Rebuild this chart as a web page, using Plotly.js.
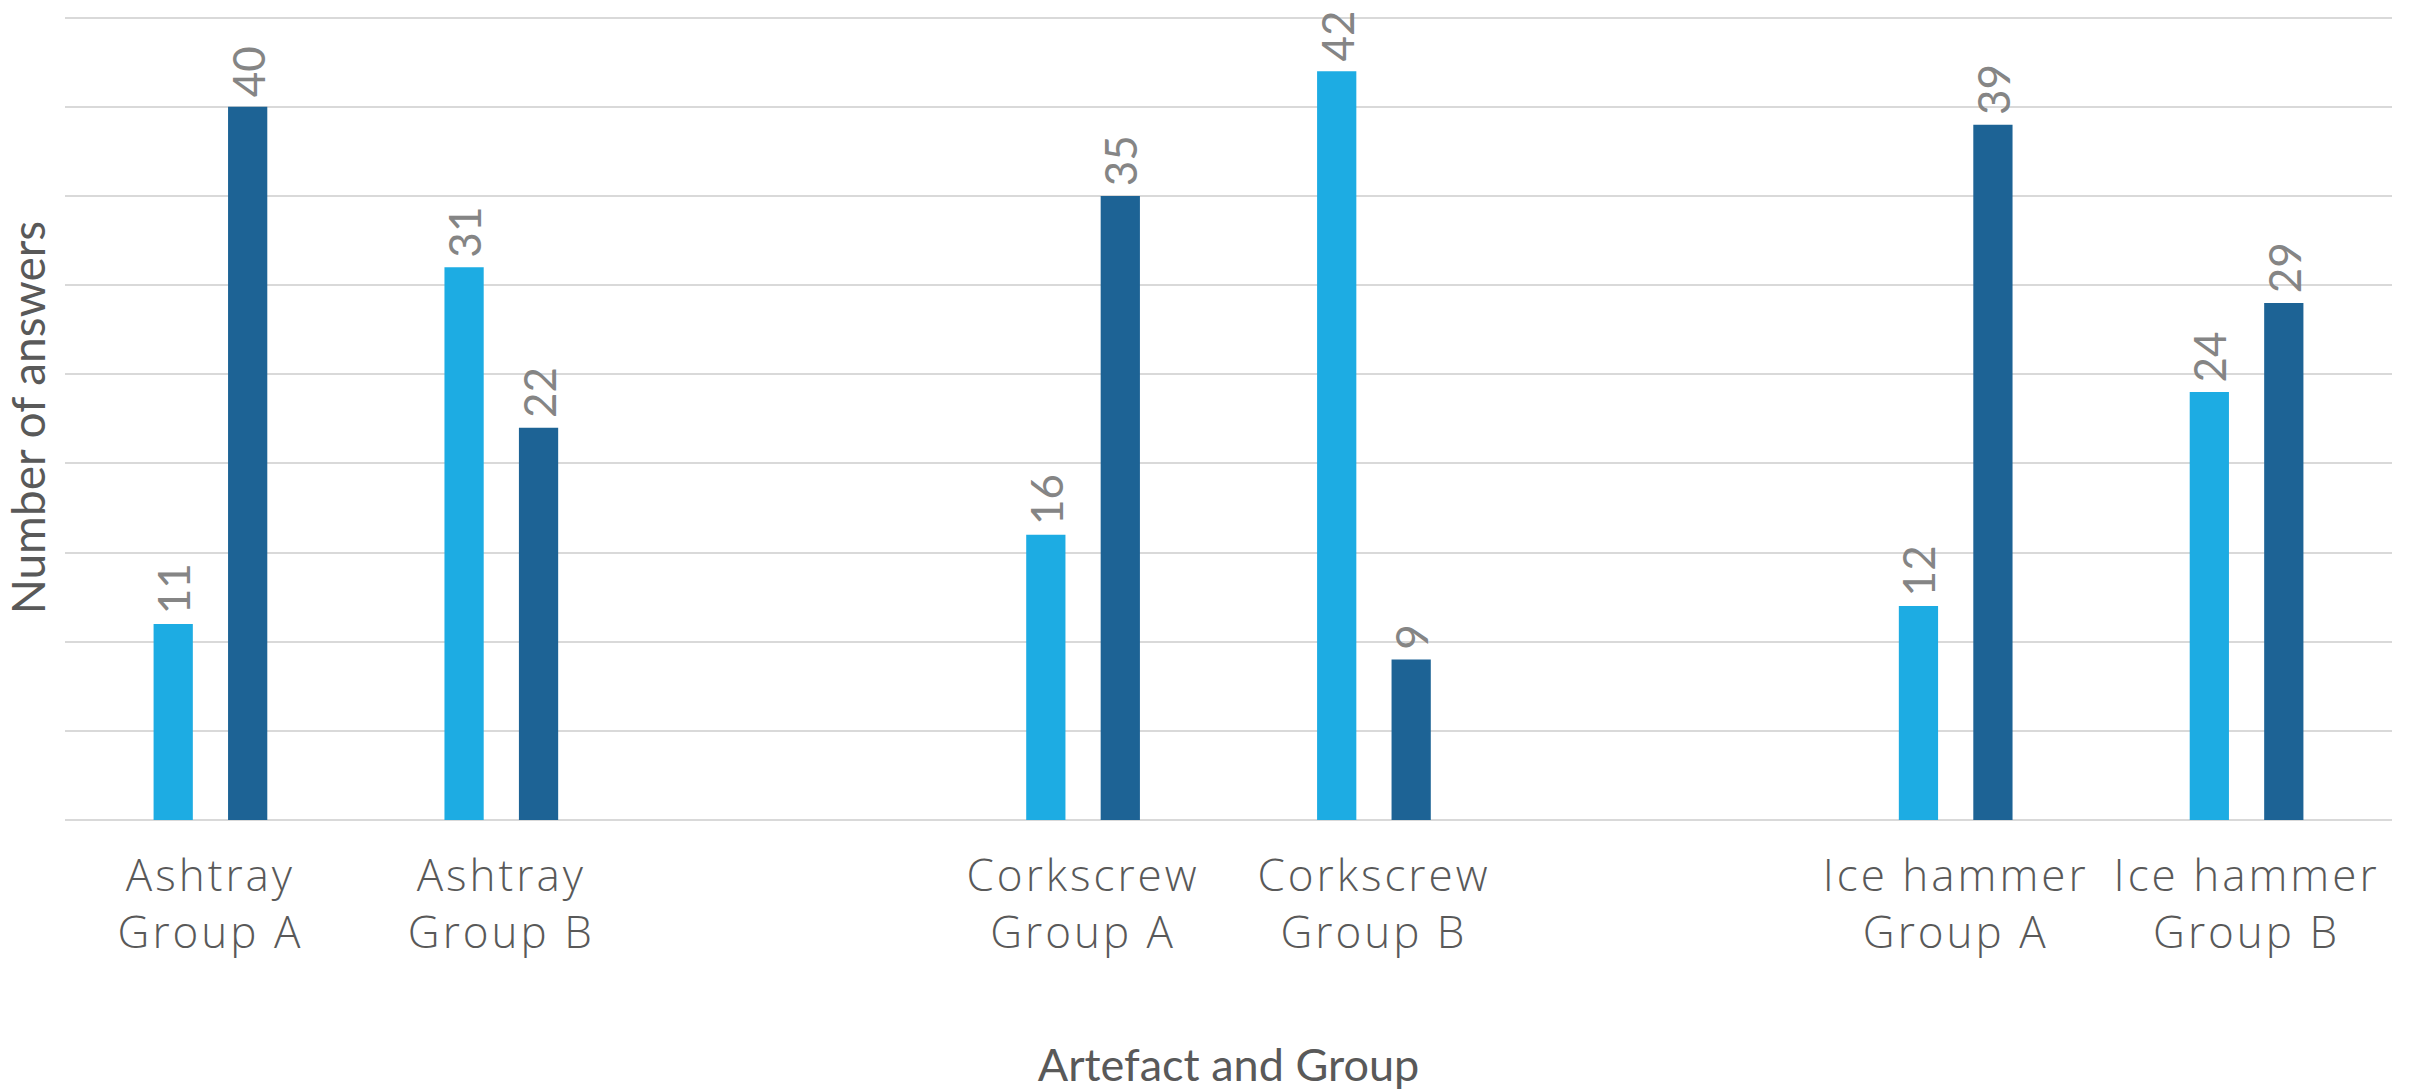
<!DOCTYPE html>
<html>
<head>
<meta charset="utf-8">
<script src="https://cdn.plot.ly/plotly-3.0.1.min.js"></script>
<style>
  html, body { margin: 0; padding: 0; background: #ffffff; }
  #chart { width: 2412px; height: 1091px; }
  .xtick text { letter-spacing: 3px; }
</style>
</head>
<body>
<div id="chart"></div>
<script>
// Categories (blank entries are the empty slots between artefacts)
const categories = [
  "Ashtray<br>Group A", "Ashtray<br>Group B", " ",
  "Corkscrew<br>Group A", "Corkscrew<br>Group B", "  ",
  "Ice hammer<br>Group A", "Ice hammer<br>Group B"
];
// Series values (light blue first bar, dark blue second bar)
const seriesLight = [11, 31, null, 16, 42, null, 12, 24];
const seriesDark  = [40, 22, null, 35, 9, null, 39, 29];
const seriesNames = ["Series 1", "Series 2"];

const yTitle = "Number of answers";
const xTitle = "Artefact and Group";

const colorLight = "#1DACE3";
const colorDark = "#1D6395";

// a small leading no-break space keeps the rotated label clear of the bar top
function labels(arr) {
  return arr.map(v => (v === null ? "" : '<span style="font-size:26px">\u00A0</span>' + String(v)));
}

const common = {
  type: "bar",
  x: categories,
  textposition: "outside",
  textangle: -90,
  constraintext: "none",
  cliponaxis: false,
  textfont: { family: "Lato, 'Liberation Sans Narrow', sans-serif", size: 44, color: "#858585" },
  hoverinfo: "x+y"
};

const traces = [
  Object.assign({}, common, {
    name: seriesNames[0], y: seriesLight, text: labels(seriesLight),
    marker: { color: colorLight }
  }),
  Object.assign({}, common, {
    name: seriesNames[1], y: seriesDark, text: labels(seriesDark),
    marker: { color: colorDark }
  })
];

const layout = {
  width: 2412,
  height: 1091,
  margin: { l: 65, r: 20, t: 15, b: 271 },
  paper_bgcolor: "#ffffff",
  plot_bgcolor: "#ffffff",
  showlegend: false,
  barmode: "group",
  bargap: 0.488,
  bargroupgap: 0.473,
  xaxis: {
    type: "category",
    showline: false,
    showgrid: false,
    ticks: "",
    tickfont: { family: "'Open Sans', Lato, sans-serif", size: 44, color: "#595959", weight: 300 },
    ticklabelstandoff: 26,
    title: {
      text: xTitle,
      font: { family: "Lato, sans-serif", size: 45, color: "#595959" },
      standoff: 90
    },
    automargin: false
  },
  yaxis: {
    range: [0, 45.15],
    dtick: 5,
    tick0: 0,
    showticklabels: false,
    ticks: "",
    showline: false,
    showgrid: true,
    gridcolor: "#D9D9D9",
    gridwidth: 2,
    zeroline: true,
    zerolinecolor: "#D9D9D9",
    zerolinewidth: 2,
    title: {
      text: yTitle,
      font: { family: "Lato, sans-serif", size: 46, color: "#595959" },
      standoff: 4
    },
    automargin: false
  }
};

Plotly.newPlot("chart", traces, layout, { displayModeBar: false, staticPlot: true });
</script>
</body>
</html>
